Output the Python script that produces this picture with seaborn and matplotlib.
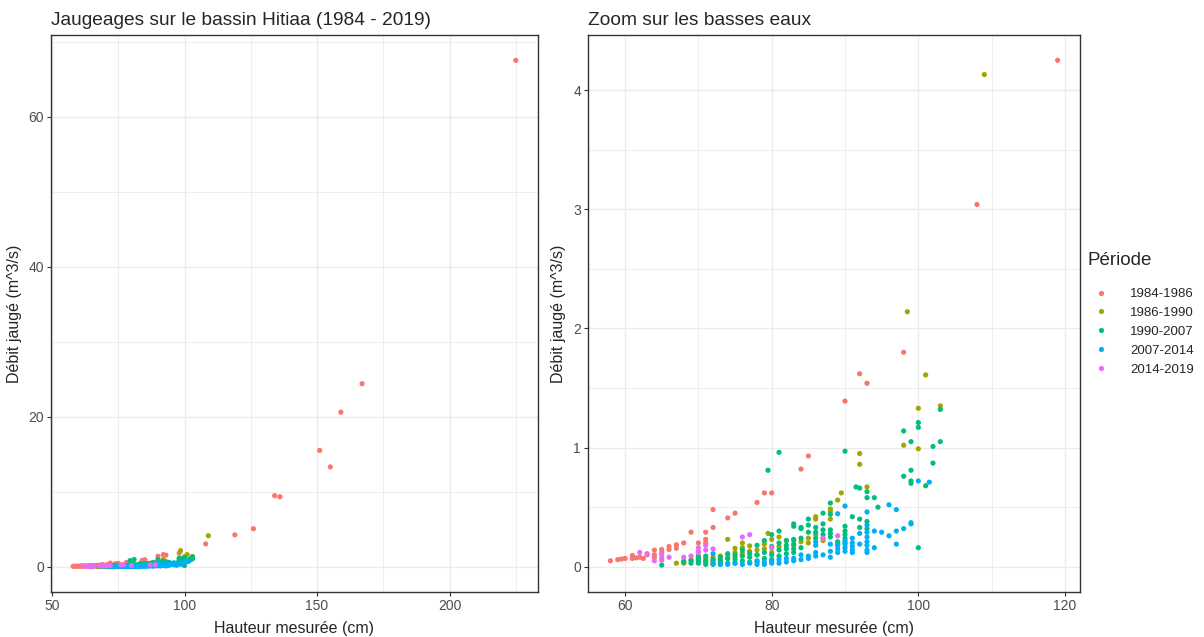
import matplotlib
matplotlib.use("Agg")
import matplotlib.pyplot as plt
from matplotlib.ticker import MultipleLocator
import seaborn as sns
import pandas as pd

# periodes et couleurs (palette ggplot par defaut)
periodes = ["1984-1986", "1986-1990", "1990-2007", "2007-2014", "2014-2019"]
couleurs = ["#F8766D", "#A3A500", "#00BF7D", "#00B0F6", "#E76BF3"]

# hauteur (cm) / debit (m3/s) par periode
h_8486 = [58, 59, 59.5, 60, 61, 61, 61.5, 62, 62.5, 63,
          64, 64, 64, 65, 65, 66, 66, 67, 67, 68,
          69, 70, 71, 71, 71, 72, 72, 74, 75, 78,
          79, 80, 84, 85, 90, 92, 93, 98, 108, 119,
          126, 134, 136, 151, 155, 159, 167, 225]
q_8486 = [0.05, 0.06, 0.065, 0.07, 0.095, 0.07, 0.075, 0.08, 0.07, 0.11,
          0.14, 0.10, 0.08, 0.145, 0.12, 0.17, 0.145, 0.185, 0.155, 0.20,
          0.29, 0.20, 0.29, 0.23, 0.20, 0.48, 0.33, 0.41, 0.45, 0.54,
          0.62, 0.62, 0.82, 0.93, 1.39, 1.62, 1.54, 1.80, 3.04, 4.25,
          5.07, 9.47, 9.33, 15.5, 13.3, 20.6, 24.4, 67.5]

h_8690 = [67, 68, 68, 69, 70, 70, 71, 71, 72, 72,
          72, 73, 73, 73, 74, 74, 74, 75, 75, 75,
          76, 76, 77, 77, 78, 78, 79, 79, 79.5, 80,
          80, 81, 81, 82, 83, 83, 84, 85, 85, 86,
          86, 86, 87, 87, 88, 88, 88, 89, 89.5, 92,
          92, 93, 98, 98.5, 100, 100, 101, 103, 109, 76]
q_8690 = [0.03, 0.05, 0.03, 0.06, 0.08, 0.06, 0.07, 0.04, 0.08, 0.05,
          0.03, 0.09, 0.06, 0.04, 0.23, 0.10, 0.07, 0.155, 0.12, 0.08,
          0.16, 0.11, 0.175, 0.13, 0.14, 0.10, 0.19, 0.15, 0.28, 0.23,
          0.12, 0.17, 0.25, 0.22, 0.22, 0.18, 0.21, 0.24, 0.20, 0.42,
          0.40, 0.27, 0.24, 0.22, 0.485, 0.465, 0.40, 0.56, 0.62, 0.95,
          0.86, 0.67, 1.02, 2.14, 1.33, 0.99, 1.61, 1.35, 4.13, 0.20]

h_9007 = [65, 68, 69, 69, 70, 70, 70, 71, 71, 72,
          72, 73, 73, 73, 74, 74, 75, 75, 75, 76,
          76, 76, 77, 77, 77, 78, 78, 78, 79, 79,
          79, 79.5, 80, 80, 80, 80, 81, 81, 81, 81,
          81, 82, 82, 82, 82, 83, 83, 83, 83, 83,
          83, 84, 84, 84, 85, 85, 85, 86, 86, 86,
          87, 87, 87, 87, 88, 88, 88, 88, 88, 89,
          89, 90, 90, 90, 90, 90, 90, 91, 91.5, 92,
          92, 92, 93, 93, 93, 93, 94, 94.5, 98, 98,
          99, 99, 99, 99, 100, 100, 100, 101, 102, 102,
          103, 103, 70, 71, 74, 84]
q_9007 = [0.014, 0.04, 0.05, 0.03, 0.09, 0.05, 0.03, 0.05, 0.02, 0.06,
          0.02, 0.08, 0.05, 0.02, 0.07, 0.03, 0.10, 0.06, 0.03, 0.14,
          0.09, 0.05, 0.11, 0.08, 0.04, 0.18, 0.10, 0.05, 0.22, 0.12,
          0.07, 0.81, 0.27, 0.17, 0.10, 0.06, 0.96, 0.30, 0.20, 0.14,
          0.09, 0.22, 0.18, 0.15, 0.11, 0.36, 0.34, 0.23, 0.19, 0.15,
          0.12, 0.33, 0.32, 0.16, 0.40, 0.35, 0.29, 0.33, 0.29, 0.24,
          0.45, 0.36, 0.31, 0.27, 0.535, 0.44, 0.31, 0.28, 0.25, 0.21,
          0.19, 0.97, 0.34, 0.30, 0.27, 0.24, 0.20, 0.42, 0.67, 0.66,
          0.40, 0.33, 0.63, 0.58, 0.38, 0.32, 0.58, 0.50, 1.14, 0.76,
          1.05, 0.81, 0.72, 0.70, 1.21, 1.17, 0.16, 0.68, 1.01, 0.87,
          1.32, 1.05, 0.07, 0.09, 0.11, 0.24]

h_0714 = [72, 72, 73, 74, 75, 76, 77, 78, 78, 79,
          79, 80, 80, 81, 81, 82, 82, 83, 83, 84,
          84, 85, 85, 86, 86, 86, 86, 87, 88, 88,
          89, 89, 89, 89, 90, 90, 90, 90, 90, 91,
          91, 91, 91, 91, 92, 92, 93, 93, 93, 93,
          93, 93, 93, 93, 94, 94, 95, 96, 96, 97,
          97, 97, 98, 99, 99, 100, 101.5, 88]
q_0714 = [0.11, 0.03, 0.02, 0.02, 0.03, 0.02, 0.03, 0.04, 0.02, 0.04,
          0.02, 0.05, 0.03, 0.06, 0.03, 0.07, 0.04, 0.07, 0.05, 0.10,
          0.06, 0.09, 0.07, 0.21, 0.18, 0.12, 0.09, 0.10, 0.19, 0.13,
          0.445, 0.18, 0.15, 0.12, 0.51, 0.22, 0.19, 0.16, 0.13, 0.24,
          0.20, 0.17, 0.14, 0.12, 0.28, 0.19, 0.46, 0.35, 0.29, 0.25,
          0.21, 0.18, 0.14, 0.12, 0.30, 0.16, 0.29, 0.52, 0.26, 0.48,
          0.30, 0.19, 0.32, 0.37, 0.36, 0.72, 0.71, 0.08]

h_1419 = [62, 63, 64, 65, 65, 65, 66, 68, 69, 70,
          70, 70, 71, 71, 72, 76, 77, 80, 87, 89]
q_1419 = [0.12, 0.10, 0.05, 0.10, 0.075, 0.055, 0.08, 0.08, 0.09, 0.16,
          0.13, 0.12, 0.18, 0.14, 0.15, 0.25, 0.27, 0.16, 0.24, 0.26]

series = [(h_8486, q_8486), (h_8690, q_8690), (h_9007, q_9007),
          (h_0714, q_0714), (h_1419, q_1419)]
frames = []
for per, (h, q) in zip(periodes, series):
    frames.append(pd.DataFrame({"hauteur": h, "debit": q, "periode": per}))
df = pd.concat(frames, ignore_index=True)
df_bas = df[df["debit"] < 5]

sns.set_style("white")
plt.rcParams["font.family"] = ["Liberation Sans", "DejaVu Sans"]

fig = plt.figure(figsize=(12.04, 6.37), dpi=100)
ax1 = fig.add_axes([0.0424, 0.0706, 0.4044, 0.8744])
ax2 = fig.add_axes([0.4884, 0.0706, 0.4086, 0.8744])


def style_ax(ax, data, xmaj, xmin, ymaj, ymin):
    x0, x1 = data["hauteur"].min(), data["hauteur"].max()
    y0, y1 = data["debit"].min(), data["debit"].max()
    dx, dy = (x1 - x0) * 0.05, (y1 - y0) * 0.05
    ax.set_xlim(x0 - dx, x1 + dx)
    ax.set_ylim(min(y0, 0) - dy, y1 + dy)
    ax.xaxis.set_major_locator(MultipleLocator(xmaj))
    ax.xaxis.set_minor_locator(MultipleLocator(xmin))
    ax.yaxis.set_major_locator(MultipleLocator(ymaj))
    ax.yaxis.set_minor_locator(MultipleLocator(ymin))
    ax.grid(which="major", color="#EBEBEB", lw=1.0)
    ax.grid(which="minor", color="#EBEBEB", lw=0.6)
    ax.set_axisbelow(True)
    for sp in ax.spines.values():
        sp.set_color("#333333")
        sp.set_linewidth(1.0)
    ax.tick_params(which="major", direction="out", length=3, width=0.8,
                   color="#333333", labelcolor="#4D4D4D", labelsize=10,
                   left=True, bottom=True, pad=2)
    ax.tick_params(which="minor", length=0)
    ax.set_xlabel("Hauteur mesurée (cm)", fontsize=11.5, labelpad=6)
    ax.set_ylabel("Débit jaugé (m^3/s)", fontsize=11.5, labelpad=5)


sns.scatterplot(data=df, x="hauteur", y="debit", hue="periode",
                hue_order=periodes, palette=couleurs, s=14, linewidth=0,
                ax=ax1, legend=False)
style_ax(ax1, df, 50, 25, 20, 10)
ax1.set_title("Jaugeages sur le bassin Hitiaa (1984 - 2019)", loc="left",
              fontsize=13.8, pad=7)

sns.scatterplot(data=df_bas, x="hauteur", y="debit", hue="periode",
                hue_order=periodes, palette=couleurs, s=14, linewidth=0,
                ax=ax2)
style_ax(ax2, df_bas, 20, 10, 1, 0.5)
ax2.set_title("Zoom sur les basses eaux", loc="left", fontsize=13.8, pad=7)

sns.move_legend(ax2, "center left", bbox_to_anchor=(1.0, 0.5),
                frameon=False, title="Période", fontsize=9.5,
                title_fontsize=13.5, handletextpad=1.2, labelspacing=0.5,
                borderaxespad=0.2)
leg = ax2.get_legend()
leg._legend_box.align = "left"
leg._legend_box.sep = 14

fig.savefig("out.png", dpi=100)
